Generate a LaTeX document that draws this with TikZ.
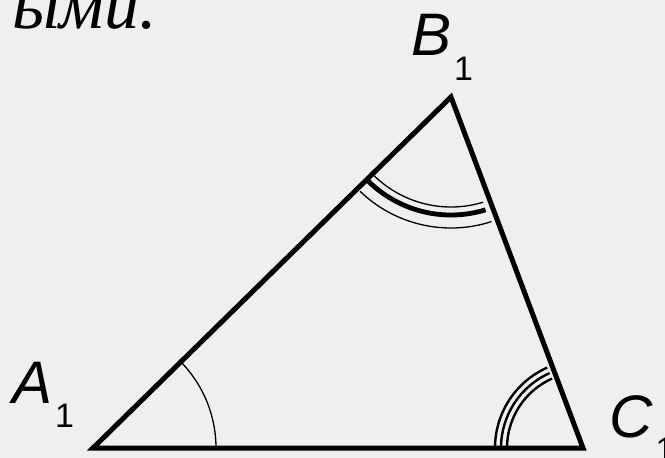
\documentclass[tikz,border=0pt]{standalone}
\usepackage{fontspec}
\setmainfont{Liberation Sans}
\newfontfamily\cyrserif{Liberation Serif}
\definecolor{bgcol}{RGB}{240,239,240}
\begin{document}
\begin{tikzpicture}[x=1pt,y=-1pt,
  side/.style={line width=5pt, line join=miter},
  thinarc/.style={line width=1.3pt},
  thickarc/.style={line width=4.8pt},
  midarc/.style={line width=2.4pt},
  vlabel/.style={anchor=base west, inner sep=0pt, font=\fontsize{60pt}{64pt}\selectfont\itshape}
]
\fill[bgcol] (0,0) rectangle (665,458);
\useasboundingbox (0,0) rectangle (665,458);

\coordinate (A) at (93,448);
\coordinate (B) at (451,97);
\coordinate (C) at (583,448);

\draw[side] (A) -- (B) -- (C) -- cycle;

% angle A
\draw[thinarc] (A) ++(0:123) arc[start angle=0, end angle=-44.4, radius=123];
% angle B
\draw[thinarc] (B) ++(73:110) arc[start angle=73, end angle=135, radius=110];
\draw[thickarc] (B) ++(73:118) arc[start angle=73, end angle=135, radius=118];
\draw[thinarc] (B) ++(72:131) arc[start angle=72, end angle=134, radius=131];
% angle C
\draw[midarc] (C) ++(180:88) arc[start angle=180, end angle=246, radius=88];
\draw[midarc] (C) ++(180:82) arc[start angle=180, end angle=246, radius=82];
\draw[midarc] (C) ++(180:76) arc[start angle=180, end angle=246, radius=76];

\node[vlabel] (lA) at (12,403) {A\kern3pt\raisebox{-24pt}{\fontsize{34pt}{36pt}\selectfont\upshape 1}};
\node[vlabel] (lB) at (411,55) {B\kern3pt\raisebox{-25pt}{\fontsize{34pt}{36pt}\selectfont\upshape 1}};
\node[vlabel] (lC) at (609,437) {C\kern3pt\raisebox{-24pt}{\fontsize{34pt}{36pt}\selectfont\upshape 1}};

\node[anchor=base east, inner sep=0pt, font=\cyrserif\itshape\fontsize{70pt}{76pt}\selectfont] (txt) at (157,28) {ыми.};
\end{tikzpicture}
\end{document}
